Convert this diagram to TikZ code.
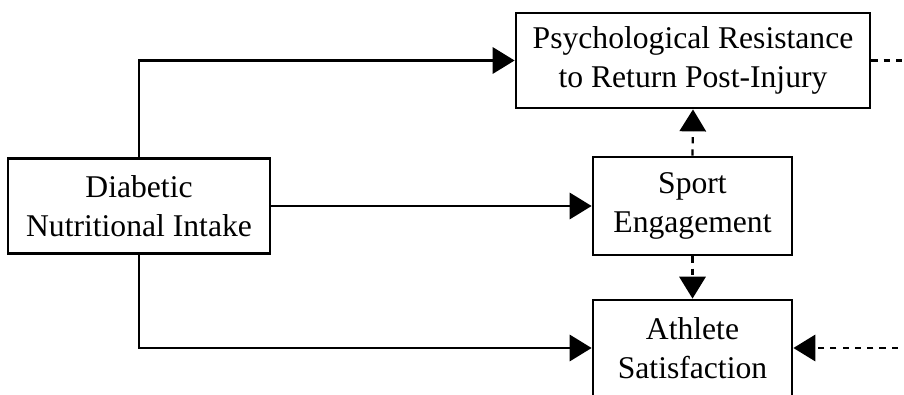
\documentclass[tikz,border=0pt]{standalone}
\usepackage{fontspec}
\setmainfont{Liberation Serif}
\usetikzlibrary{arrows.meta}

\begin{document}
\begin{tikzpicture}[
    box/.style={draw, line width=1.6pt, align=center, inner sep=0pt, minimum height=1.9cm, font=\fontsize{18}{22.5}\selectfont},
    arr/.style={line width=1.3pt, -{Triangle[length=12.5pt, width=15pt]}},
    dotarr/.style={arr, dash pattern=on 3.5pt off 3.5pt}]
    % \draw[help lines] (0,0) grid (18,8);
    \clip (0,0) rectangle (18.08,7.88);

    \node[box, minimum width=5.24cm] (diab) at (2.78,3.76) {Diabetic\\Nutritional Intake};
    \node[box, minimum width=7.08cm] (psych) at (13.86,6.67) {Psychological Resistance\\to Return Post-Injury};
    \node[box, minimum width=3.98cm, minimum height=1.96cm] (sport) at (13.85,3.76) {Sport\\Engagement};
    \node[box, minimum width=3.98cm, minimum height=1.92cm] (sat) at (13.85,0.92) {Athlete\\Satisfaction};
    \coordinate (loop) at (19,6.67);

    \draw[arr] (diab.north) |- (psych.west);
    \draw[arr] (diab.east) -- (sport.west);
    \draw[arr] (diab.south) |- (sat.west);

    \draw[dotarr] (sport.north) -- (psych.south);
    \draw[dotarr] (sport.south) -- (sat.north);
    \draw[dotarr] (psych.east) -- (loop) |- (sat.east);
\end{tikzpicture}
\end{document}
